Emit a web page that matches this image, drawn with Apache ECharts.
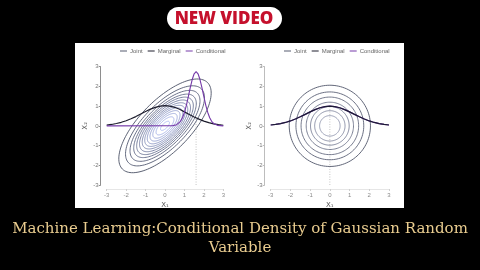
<!DOCTYPE html>
<html>
<head>
<meta charset="utf-8">
<script src="https://cdn.jsdelivr.net/npm/echarts@6/dist/echarts.min.js"></script>
<style>html,body{margin:0;padding:0;background:#000;}#c{width:480px;height:270px;}</style>
</head>
<body>
<div id="c"></div>
<script>
// ---- data ----
const axisTicks = [-3, -2, -1, 0, 1, 2, 3];
// left panel: correlated joint density contours (semi-major, semi-minor along the 45° axes)
const jointA = [3.1, 2.65, 2.35, 2.1, 1.9, 1.71, 1.53, 1.36, 1.19, 1.01, 0.82, 0.6, 0.3];
const jointB = [1.3, 1.11, 0.98, 0.88, 0.8, 0.72, 0.64, 0.57, 0.5, 0.42, 0.34, 0.25, 0.13];
// right panel: independent joint density contours (radii)
const circleR = [2.06, 1.72, 1.46, 1.2, 0.98, 0.77, 0.52];
// marginal curves
const margX = [-3, -2.75, -2.5, -2.25, -2, -1.75, -1.5, -1.25, -1, -0.75, -0.5, -0.25, 0, 0.25, 0.5, 0.75, 1, 1.25, 1.5, 1.75, 2, 2.25, 2.5, 2.75, 3];
const margLeftY = [0.04, 0.07, 0.12, 0.18, 0.26, 0.36, 0.47, 0.6, 0.73, 0.85, 0.94, 1.0, 1.03, 1.0, 0.94, 0.84, 0.71, 0.58, 0.45, 0.34, 0.24, 0.16, 0.1, 0.06, 0.03];
const margRightY = [0.044, 0.072, 0.114, 0.172, 0.249, 0.345, 0.458, 0.581, 0.707, 0.823, 0.917, 0.979, 1.0, 0.979, 0.917, 0.823, 0.707, 0.581, 0.458, 0.345, 0.249, 0.172, 0.114, 0.072, 0.044];
// conditional curve (left panel)
const condX = [-3, 0.4, 0.5, 0.6, 0.7, 0.8, 0.9, 1.0, 1.1, 1.2, 1.3, 1.4, 1.5, 1.6, 1.7, 1.8, 1.9, 2.0, 2.1, 2.2, 2.3, 2.4, 2.5, 2.6, 2.7, 2.8, 3];
const condY = [0, 0.01, 0.025, 0.058, 0.12, 0.23, 0.41, 0.68, 1.04, 1.48, 1.94, 2.35, 2.64, 2.75, 2.64, 2.35, 1.94, 1.48, 1.04, 0.68, 0.41, 0.23, 0.12, 0.058, 0.025, 0.01, 0];
// conditioning lines [x, top]
const condLineLeft = [1.6, 0.42];
const condLineRight = [0, 1.0];
const legendNames = ['Joint', 'Marginal', 'Conditional'];
const titleLines = ['Machine Learning:Conditional Density of Gaussian Random', 'Variable'];
const badgeText = 'NEW VIDEO';

// ---- helpers ----
function hex2rgb(h){return [parseInt(h.slice(1,3),16),parseInt(h.slice(3,5),16),parseInt(h.slice(5,7),16)];}
function mix(c1,c2,t){const a=hex2rgb(c1),b=hex2rgb(c2);return 'rgb('+a.map((v,i)=>Math.round(v+(b[i]-v)*t)).join(',')+')';}
function contourRenderer(outer, inner, n){
  return function(params, api){
    const a = api.value(0), b = api.value(1);
    const pts = [];
    for (let k = 0; k <= 120; k++) {
      const t = k / 120 * 2 * Math.PI;
      const u = a * Math.cos(t), v = b * Math.sin(t);
      pts.push(api.coord([(u - v) * Math.SQRT1_2, (u + v) * Math.SQRT1_2]));
    }
    const tt = n > 1 ? params.dataIndex / (n - 1) : 0;
    return {type: 'polyline', shape: {points: pts}, style: {stroke: mix(outer, inner, tt), fill: null, lineWidth: 0.9}, silent: true};
  };
}
const pairs = (xs, ys) => xs.map((x, i) => [x, ys[i]]);

function xAxisCfg(gi){
  return {gridIndex: gi, type: 'value', min: -3, max: 3, interval: 1, offset: 4,
    axisLine: {show: true, onZero: false, lineStyle: {color: '#e6e6e6', width: 1}},
    axisTick: {show: true, length: 2, lineStyle: {color: '#d0d0d0'}},
    axisLabel: {fontSize: 6, color: '#8a8a8a', margin: 3, fontFamily: 'Liberation Sans'},
    splitLine: {show: false},
    name: 'X\u2081', nameLocation: 'middle', nameGap: 13, nameTextStyle: {fontSize: 7, color: '#555', fontFamily: 'DejaVu Sans'}};
}
function yAxisCfg(gi, lineColor){
  return {gridIndex: gi, type: 'value', min: -3, max: 3, interval: 1, offset: 6,
    axisLine: {show: true, onZero: false, lineStyle: {color: lineColor, width: 1}},
    axisTick: {show: true, length: 2, lineStyle: {color: lineColor}},
    axisLabel: {fontSize: 6, color: '#777', margin: 2, fontFamily: 'Liberation Sans'},
    splitLine: {show: false},
    name: 'X\u2082', nameLocation: 'middle', nameRotate: 90, nameGap: 12, nameTextStyle: {fontSize: 7, color: '#555', fontFamily: 'DejaVu Sans'}};
}
const legendCommon = {icon: 'rect', itemWidth: 7, itemHeight: 1, itemGap: 5, top: 48, padding: 0,
  textStyle: {fontSize: 6, color: '#666', fontFamily: 'Liberation Sans', padding: [0, 0, 0, -2]}, data: legendNames, selectedMode: false};

const chart = echarts.init(document.getElementById('c'), null, {renderer: 'canvas'});
chart.setOption({
  backgroundColor: '#000',
  animation: false,
  graphic: [
    {type: 'rect', shape: {x: 75, y: 43, width: 329, height: 165}, style: {fill: '#fff'}, z: -10},
    {type: 'rect', shape: {x: 167, y: 7, width: 115, height: 23, r: 11.5}, style: {fill: '#fff'}, z: 10},
    {type: 'text', x: 224, y: 19.5, style: {text: badgeText, fill: '#c5102c', font: '800 17px "Open Sans"', align: 'center', verticalAlign: 'middle'}, z: 11},
    {type: 'text', x: 240, y: 229, style: {text: titleLines[0], fill: '#e9cc8f', font: '15px "DejaVu Serif"', align: 'center', verticalAlign: 'middle'}, z: 11},
    {type: 'text', x: 240, y: 248, style: {text: titleLines[1], fill: '#e9cc8f', font: '15px "DejaVu Serif"', align: 'center', verticalAlign: 'middle'}, z: 11}
  ],
  legend: [
    Object.assign({left: 120}, legendCommon),
    Object.assign({left: 284}, legendCommon)
  ],
  grid: [
    {left: 106.7, top: 66.7, width: 116.6, height: 118.3, containLabel: false},
    {left: 270.7, top: 66.7, width: 118.3, height: 118.3, containLabel: false}
  ],
  xAxis: [xAxisCfg(0), xAxisCfg(1)],
  yAxis: [yAxisCfg(0, '#8e8e8e'), yAxisCfg(1, '#bdbdbd')],
  series: [
    {name: 'Joint', type: 'custom', xAxisIndex: 0, yAxisIndex: 0, coordinateSystem: 'cartesian2d',
      itemStyle: {color: '#555b6e'}, renderItem: contourRenderer('#4a5064', '#aab8f2', jointA.length),
      data: jointA.map((a, i) => [a, jointB[i]]), clip: false, z: 2},
    {name: 'Marginal', type: 'line', xAxisIndex: 0, yAxisIndex: 0, data: pairs(margX, margLeftY), showSymbol: false, symbol: 'none',
      lineStyle: {color: '#1c1c2c', width: 1.2}, itemStyle: {color: '#1c1c2c'}, z: 3},
    {name: 'Conditional', type: 'line', xAxisIndex: 0, yAxisIndex: 0, data: pairs(condX, condY), showSymbol: false, symbol: 'none',
      lineStyle: {color: '#7438a8', width: 1.1}, itemStyle: {color: '#7438a8'}, z: 4},
    {type: 'line', xAxisIndex: 0, yAxisIndex: 0, data: [[condLineLeft[0], -3], [condLineLeft[0], condLineLeft[1]]], showSymbol: false, symbol: 'none',
      lineStyle: {color: '#b8b8b8', width: 0.8, type: [1, 1.5]}, z: 1, silent: true},

    {name: 'Joint', type: 'custom', xAxisIndex: 1, yAxisIndex: 1, coordinateSystem: 'cartesian2d',
      itemStyle: {color: '#555b6e'}, renderItem: contourRenderer('#50566a', '#8c92aa', circleR.length),
      data: circleR.map(r => [r, r]), clip: false, z: 2},
    {name: 'Conditional', type: 'line', xAxisIndex: 1, yAxisIndex: 1, data: pairs(margX, margRightY), showSymbol: false, symbol: 'none',
      lineStyle: {color: '#7438a8', width: 1.2}, itemStyle: {color: '#7438a8'}, z: 3},
    {name: 'Marginal', type: 'line', xAxisIndex: 1, yAxisIndex: 1, data: pairs(margX, margRightY), showSymbol: false, symbol: 'none',
      lineStyle: {color: '#1c1c34', width: 1.2}, itemStyle: {color: '#1c1c34'}, z: 4},
    {type: 'line', xAxisIndex: 1, yAxisIndex: 1, data: [[condLineRight[0], -3], [condLineRight[0], condLineRight[1]]], showSymbol: false, symbol: 'none',
      lineStyle: {color: '#b8b8b8', width: 0.8, type: [1, 1.5]}, z: 1, silent: true}
  ]
});
</script>
</body>
</html>
